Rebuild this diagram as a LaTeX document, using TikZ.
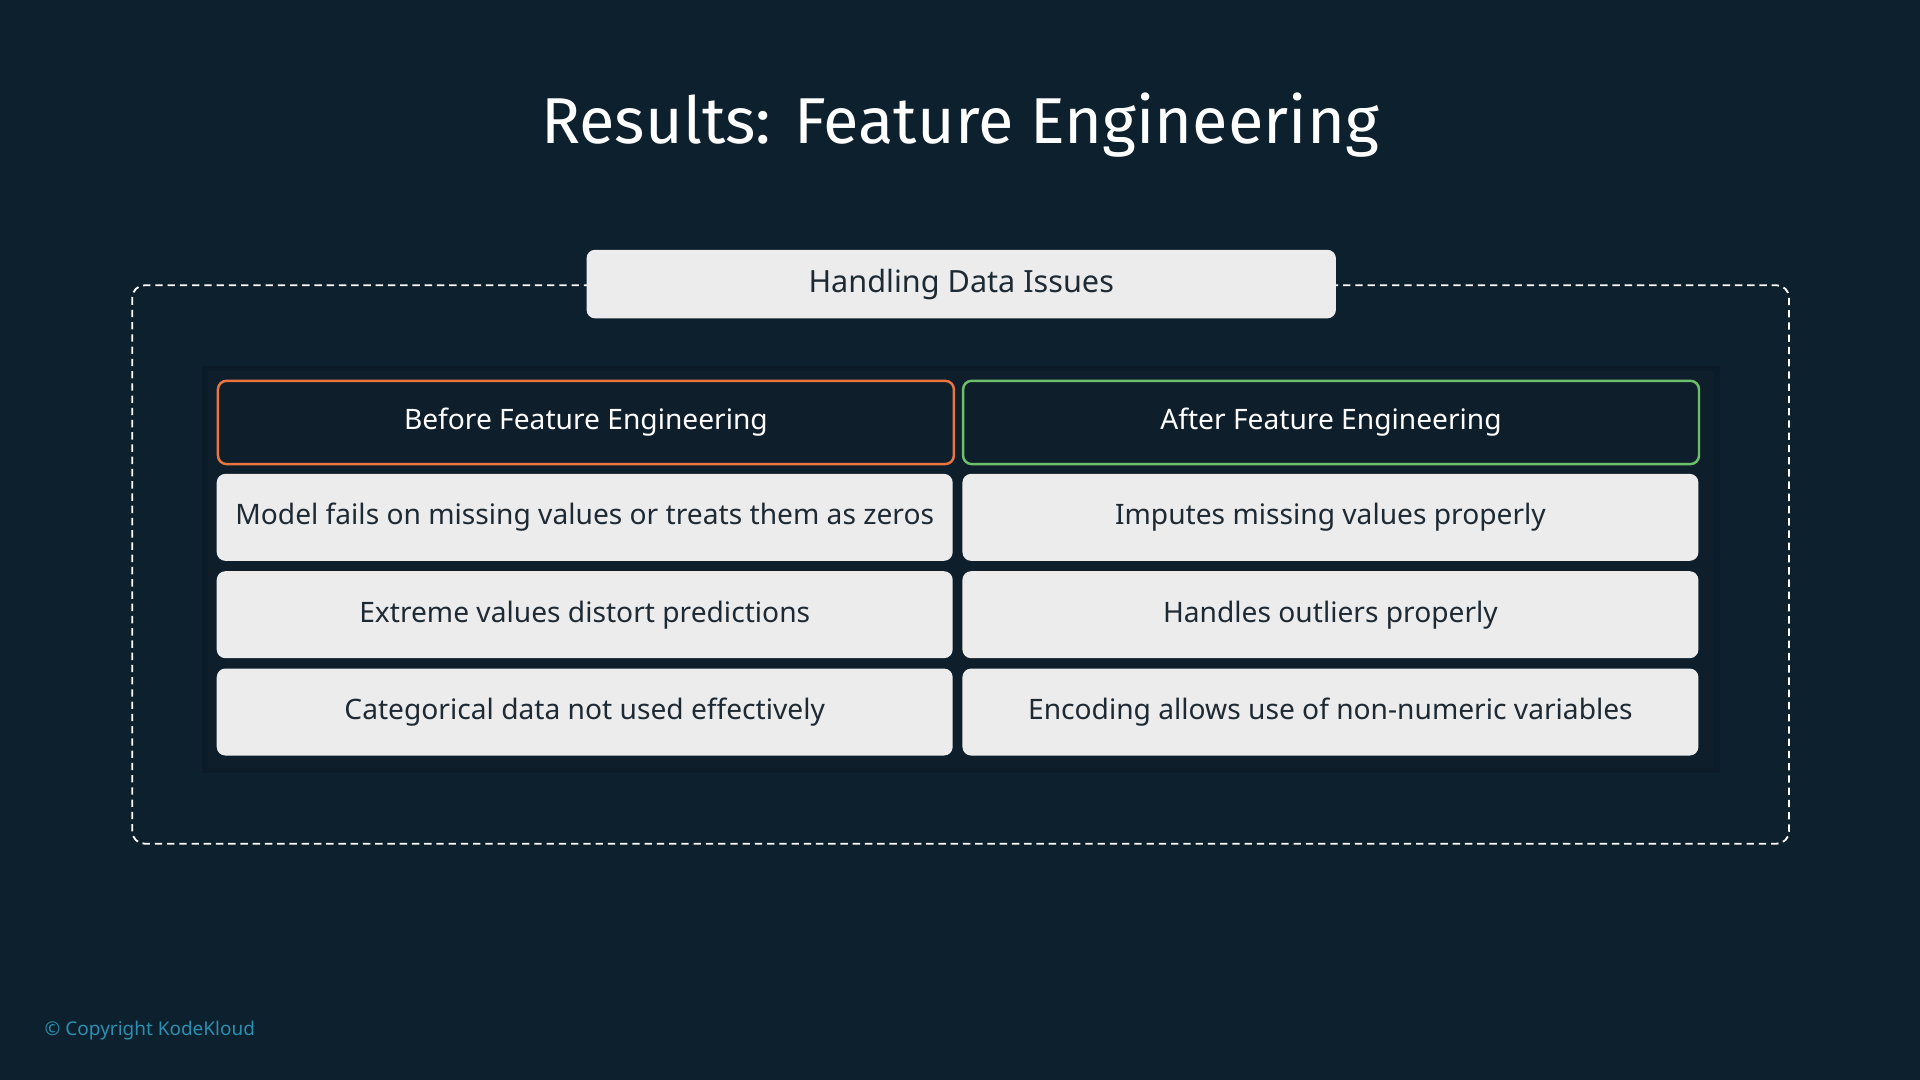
\documentclass[tikz,border=0pt]{standalone}
\usepackage{fontspec}
\setmainfont{Noto Sans}
\newfontfamily\titlefont{Fira Sans}
\usetikzlibrary{positioning}
\definecolor{bgblue}{HTML}{0D202E}
\definecolor{panelblue}{HTML}{0E1E2B}
\definecolor{cellgray}{HTML}{ECECEC}
\definecolor{inkdark}{HTML}{1E2A33}
\definecolor{beforered}{HTML}{E0705A}
\definecolor{aftergreen}{HTML}{6CC06A}
\definecolor{copyblue}{HTML}{2A8FB0}
\tikzset{
  cell/.style={fill=cellgray, rounded corners=7pt, minimum width=601pt, minimum height=71pt,
    inner sep=0pt, text=inkdark, font=\fontsize{23}{27}\selectfont},
  head/.style={cell, fill=panelblue, draw, line width=2pt, minimum height=68pt, text=white}
}
\begin{document}
\begin{tikzpicture}[x=1pt,y=-1pt]
\useasboundingbox[fill=bgblue] (0,0) rectangle (1568,882);
\node[text=white, font=\titlefont\fontsize{53}{58}\selectfont] (title) at (784,102) {Results: Feature Engineering};
% outer dashed frame
\draw[white, dash pattern=on 6pt off 4pt, line width=1.5pt, rounded corners=10pt] (108,233) rectangle (1461,689);
\node[cell, minimum width=612pt, minimum height=56pt, font=\fontsize{25}{29}\selectfont] (issues) at (785,232) {Handling Data Issues};
% inner panel
\fill[black, opacity=0.15] (165,299) rectangle (1405,631);
\fill[panelblue] (170,303) rectangle (1400,627);
\node[head, draw=beforered!70!orange] (before) at (478.5,345) {Before Feature Engineering};
\node[head, draw=aftergreen] (after) at (1087,345) {After Feature Engineering};
\node[cell] (b1) at (477.5,422.5) {Model fails on missing values or treats them as zeros};
\node[cell] (b2) at (477.5,502) {Extreme values distort predictions};
\node[cell] (b3) at (477.5,581.5) {Categorical data not used effectively};
\node[cell] (a1) at (1086.5,422.5) {Imputes missing values properly};
\node[cell] (a2) at (1086.5,502) {Handles outliers properly};
\node[cell] (a3) at (1086.5,581.5) {Encoding allows use of non-numeric variables};
\node[anchor=west, text=copyblue, font=\fontsize{15.5}{18}\selectfont] (copy) at (33,842) {© Copyright KodeKloud};
\end{tikzpicture}
\end{document}
